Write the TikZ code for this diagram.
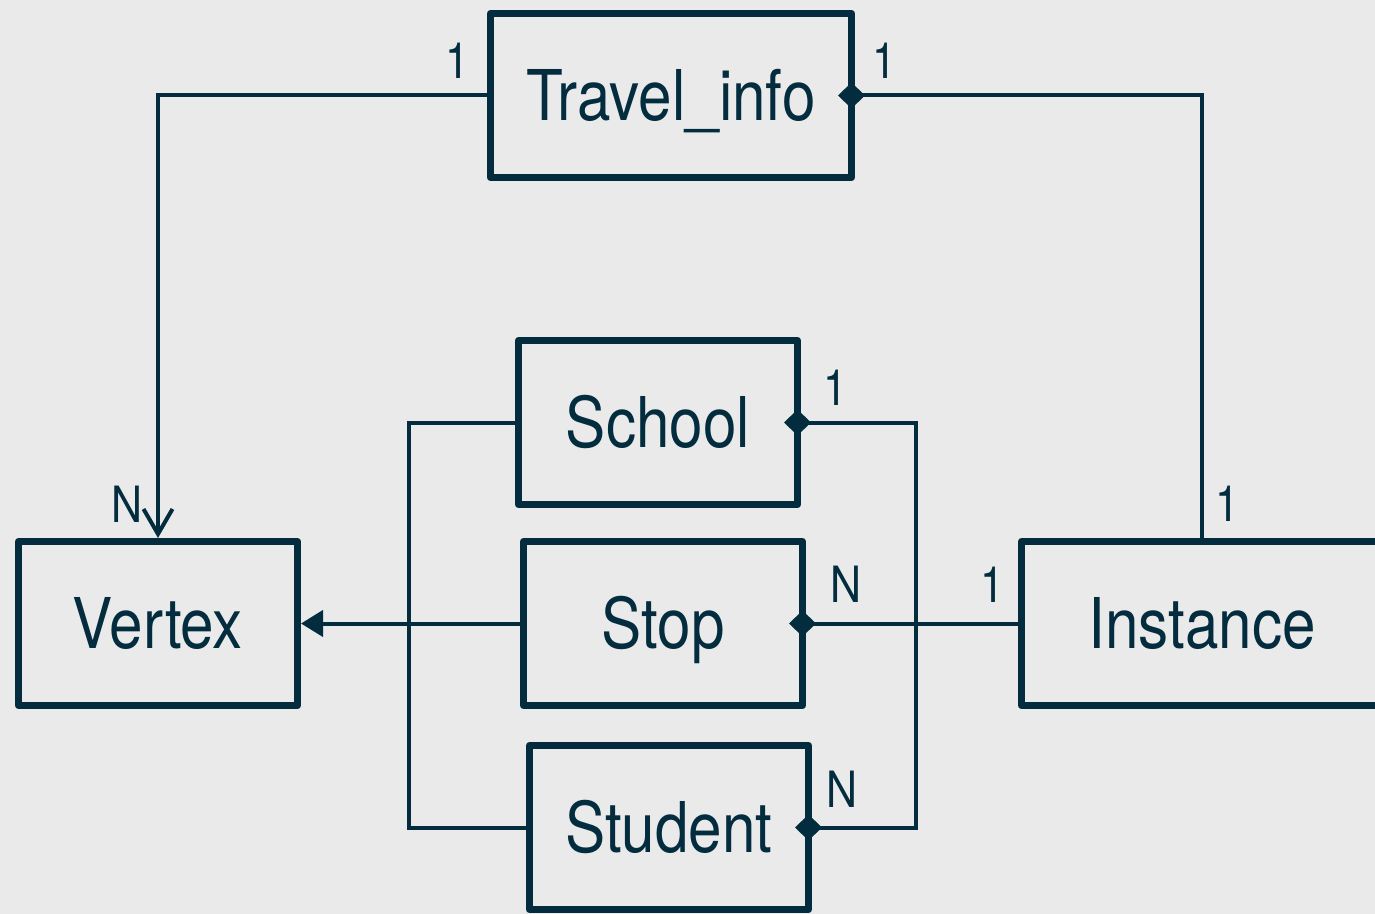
\documentclass[tikz,border=0pt]{standalone}
\usepackage{fontspec}
\setmainfont{TeX Gyre Heros}[FakeStretch=0.86]
\usepackage{tikz}
\usetikzlibrary{arrows.meta, positioning}

\definecolor{ink}{HTML}{032C3E}
\definecolor{paper}{HTML}{EAEAEA}

\begin{document}
\begin{tikzpicture}[
  x=0.5pt, y=-0.5pt,
  font=\fontsize{35}{42}\selectfont,
  entity/.style={
    rectangle, draw=ink, line width=3.5pt, line join=round,
    fill=paper, text=ink,
    minimum width=139.5pt, minimum height=82pt,
    inner sep=0pt, text height=25pt, text depth=0pt
  },
  wide/.style={entity, minimum width=180.5pt},
  link/.style={draw=ink, line width=2pt},
  dia/.tip={Diamond[length=13.5pt, width=13pt]},
  one/.style={dia-, shorten <=-8.5pt},
  card/.style={text=ink, font=\fontsize{25}{30}\selectfont, inner sep=0pt}
]

\useasboundingbox (0,0) rectangle (1375,914);
\fill[paper] (0,0) rectangle (1375,914);

% Entities
\node[entity] (school) at (658,422.5) {School};
\node[entity, below=15pt of school, xshift=2.5pt] (stop) {Stop};
\node[entity, below=16.5pt of stop, xshift=3pt] (student) {Student};
\node[entity, left=109.5pt of stop] (vertex) {Vertex};
\node[wide, right=106pt of stop] (instance) {Instance};
\node[wide, above=78pt of school, xshift=6.5pt] (tinfo) {Travel\_info};

% Relations
\draw[link, -{Straight Barb[length=12.5pt, width=14.5pt]}]
  (tinfo.west) node[card, xshift=-15pt, yshift=17.5pt] {1}
  -| (vertex.north) node[card, xshift=-15.5pt, yshift=17pt] {N};
\draw[link, one]
  (tinfo.east) node[card, xshift=14.5pt, yshift=17.5pt] {1}
  -| (instance.north) node[card, xshift=12.5pt, yshift=17pt] {1};
\draw[link] (school.west) -- ++(-106,0) |- (student.west);
\draw[link, dia-dia, shorten <=-8.5pt, shorten >=-8.5pt]
  (school.east) node[card, xshift=17pt, yshift=17.5pt] {1}
  -- ++(115,0) |- (student.east) node[card, xshift=15pt, yshift=19pt] {N};
\draw[link, -{Triangle[length=11pt, width=13pt]}] (stop.west) -- (vertex.east);
\draw[link, one]
  (stop.east) node[card, xshift=20pt, yshift=19.5pt] {N}
  -- (instance.west) node[card, xshift=-13pt, yshift=19.5pt] {1};

\end{tikzpicture}
\end{document}
